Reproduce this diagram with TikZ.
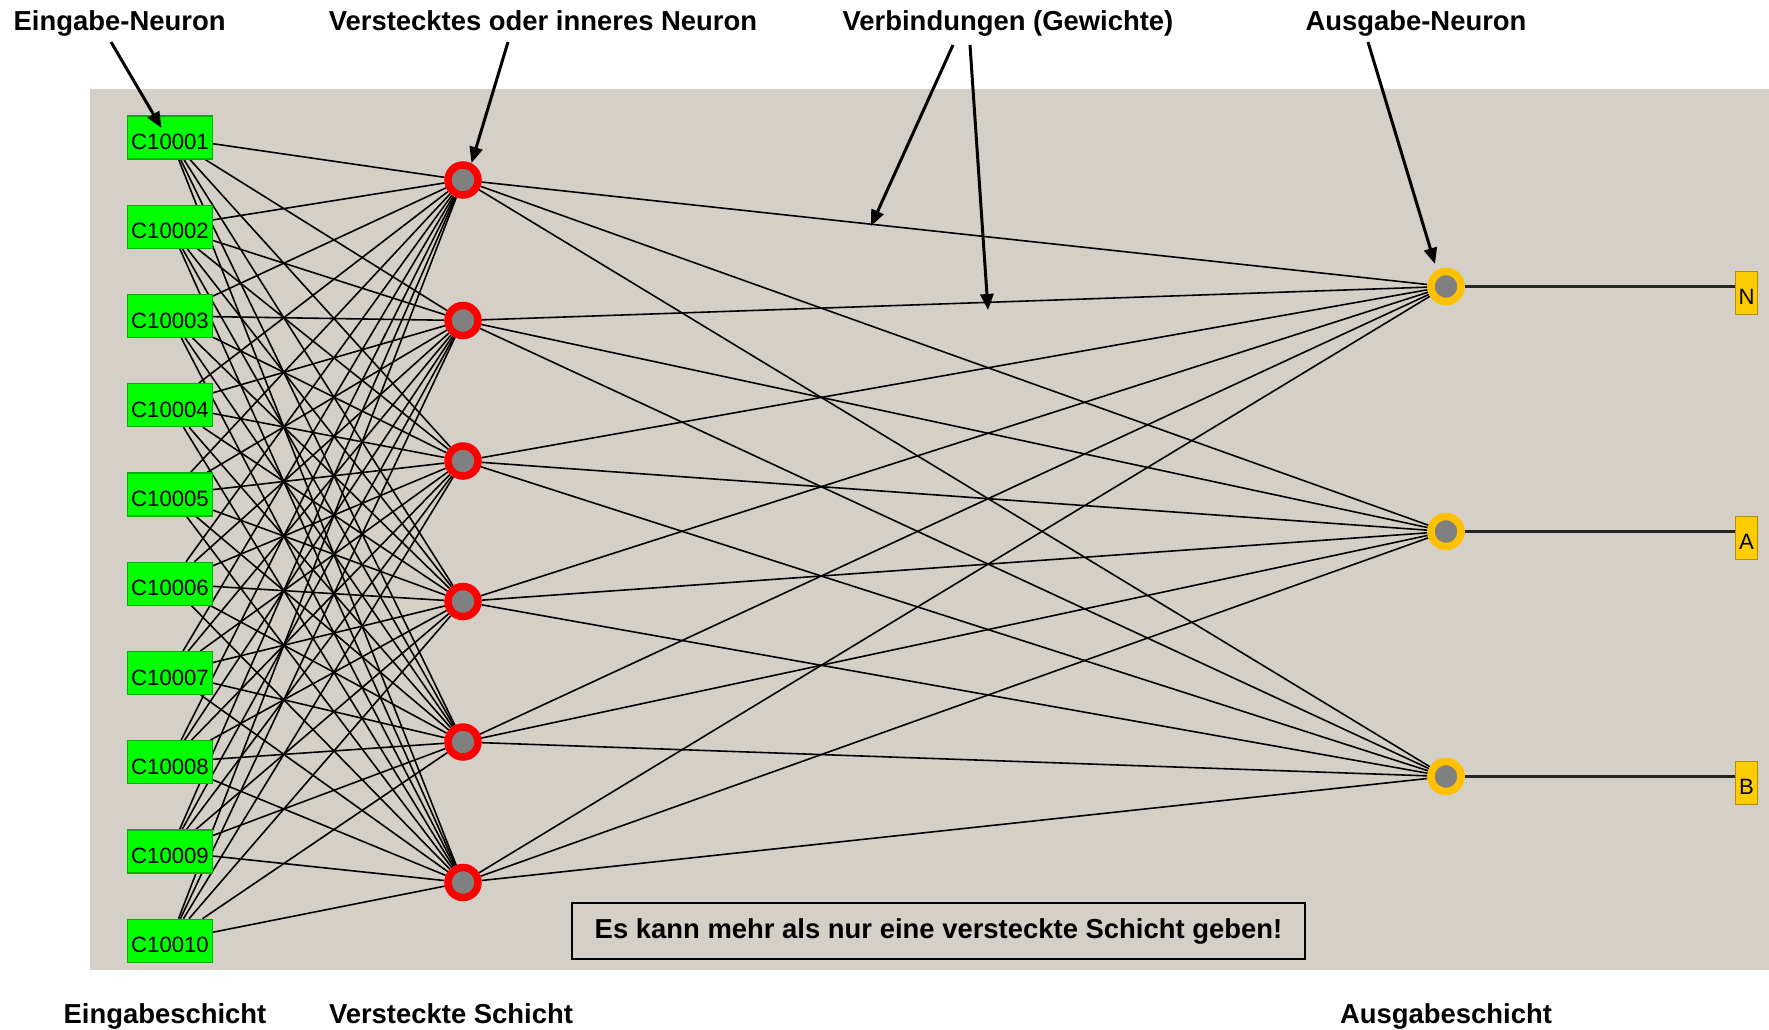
\documentclass[tikz,border=0pt]{standalone}
\usepackage{fontspec}
\setmainfont{Liberation Sans}
\usetikzlibrary{arrows.meta,backgrounds}
\definecolor{WinGrey}{RGB}{212,208,200}
\definecolor{InGreen}{RGB}{0,255,0}
\definecolor{HidRed}{RGB}{255,0,0}
\definecolor{OutGold}{RGB}{255,192,0}
\definecolor{LblGold}{RGB}{255,204,0}
\definecolor{CoreGrey}{RGB}{128,128,128}

\begin{document}
\begin{tikzpicture}[x=0.01cm, y=-0.01cm,
    inbox/.style={draw=InGreen!70!black, line width=0.3pt, fill=InGreen, minimum width=0.85cm, minimum height=0.43cm, inner sep=0pt, text height=0.24cm, text depth=0pt, font=\fontsize{6.3}{7}\selectfont},
    hidn/.style={circle, draw=HidRed, fill=CoreGrey, line width=0.075cm, minimum size=0.30cm, inner sep=0pt},
    outn/.style={hidn, draw=OutGold},
    outlbl/.style={draw=LblGold!70!black, fill=LblGold, line width=0.4pt, minimum width=0.22cm, minimum height=0.43cm, inner sep=0pt, text height=0.23cm, text depth=0pt, font=\fontsize{6.3}{7}\selectfont},
    head/.style={anchor=base, font=\fontsize{7.8}{9}\selectfont\bfseries},
    wire/.style={black, line width=0.45pt},
    annot/.style={-{Triangle[length=0.16cm, width=0.13cm]}, line width=0.85pt}
]
    \useasboundingbox (0,0) rectangle (1769,1030);

    % input layer
    \node[inbox] (c1)  at (170,137.5) {C10001};
    \node[inbox] (c2)  at (170,226.75) {C10002};
    \node[inbox] (c3)  at (170,316) {C10003};
    \node[inbox] (c4)  at (170,405.25) {C10004};
    \node[inbox] (c5)  at (170,494.5) {C10005};
    \node[inbox] (c6)  at (170,583.75) {C10006};
    \node[inbox] (c7)  at (170,673) {C10007};
    \node[inbox] (c8)  at (170,762.25) {C10008};
    \node[inbox] (c9)  at (170,851.5) {C10009};
    \node[inbox] (c10) at (170,940.75) {C10010};

    % hidden layer
    \node[hidn] (h1) at (463,180) {};
    \node[hidn] (h2) at (463,320.5) {};
    \node[hidn] (h3) at (463,461) {};
    \node[hidn] (h4) at (463,601.5) {};
    \node[hidn] (h5) at (463,742) {};
    \node[hidn] (h6) at (463,882.5) {};

    % output layer
    \node[outn] (o1) at (1446,286.5) {};
    \node[outn] (o2) at (1446,531.5) {};
    \node[outn] (o3) at (1446,776.5) {};
    \node[outlbl] (lN) at (1746.5,293) {N};
    \node[outlbl] (lA) at (1746.5,538) {A};
    \node[outlbl] (lB) at (1746.5,783) {B};

    \begin{scope}[on background layer]
        \fill[WinGrey] (90,89) rectangle (1769,970);
        \foreach \i in {1,...,10}
            \foreach \j in {1,...,6}
                \draw[wire] (c\i) -- (h\j);
        \foreach \j in {1,...,6}
            \foreach \k in {1,2,3}
                \draw[wire] (h\j) -- (o\k);
        \draw[line width=0.6pt, black!85] (o1) -- (o1 -| lN.west);
        \draw[line width=0.6pt, black!85] (o2) -- (o2 -| lA.west);
        \draw[line width=0.6pt, black!85] (o3) -- (o3 -| lB.west);
    \end{scope}

    \node[draw, line width=0.6pt, minimum width=7.33cm, minimum height=0.56cm, inner sep=0pt, font=\fontsize{7.8}{9}\selectfont\bfseries] (hint) at (938.5,931) {Es kann mehr als nur eine versteckte Schicht geben!};

    % labels
    \node[head] (tEin) at (119.6,30) {Eingabe-Neuron};
    \node[head] (tHid) at (543,30) {Verstecktes oder inneres Neuron};
    \node[head] (tCon) at (1008,30) {Verbindungen (Gewichte)};
    \node[head] (tOut) at (1416,30) {Ausgabe-Neuron};
    \node[head] (bEin) at (165,1023) {Eingabeschicht};
    \node[head] (bHid) at (451,1023) {Versteckte Schicht};
    \node[head] (bOut) at (1446,1023) {Ausgabeschicht};

    \coordinate (sEin) at (111,42);
    \coordinate (eEin) at (161.5,128);
    \coordinate (sHid) at (508,42);
    \coordinate (eHid) at (471.5,163);
    \coordinate (sConA) at (953,45);
    \coordinate (eConA) at (871,226);
    \coordinate (sConB) at (970,45);
    \coordinate (eConB) at (988,310);
    \coordinate (sOut) at (1368,42);
    \coordinate (eOut) at (1435,264);
    \draw[annot] (sEin) -- (eEin);
    \draw[annot] (sHid) -- (eHid);
    \draw[annot] (sConA) -- (eConA);
    \draw[annot] (sConB) -- (eConB);
    \draw[annot] (sOut) -- (eOut);
\end{tikzpicture}
\end{document}
